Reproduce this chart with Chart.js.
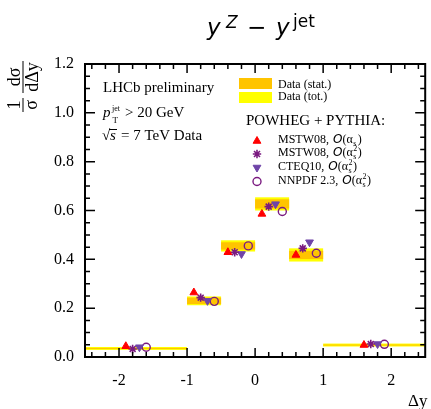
<!DOCTYPE html>
<html>
<head>
<meta charset="utf-8">
<script src="https://cdn.jsdelivr.net/npm/chart.js@4.4.1/dist/chart.umd.min.js"></script>
<style>
    html, body { margin: 0; padding: 0; background: #fff; }
    #wrap { position: relative; width: 431px; height: 409px; }
</style>
</head>
<body>
<div id="wrap"><canvas id="grafico" width="431" height="409"></canvas></div>
<script>
// bins in Delta y
const binLo = [-2.5, -1.0, -0.5, 0.0, 0.5, 1.0];
const binHi = [-1.0, -0.5, 0.0, 0.5, 1.0, 2.5];

// LHCb data, 1/sigma dsigma/dDeltay
const dataVal = [0.035, 0.230, 0.455, 0.627, 0.418, 0.049];
const errStat = [0.002, 0.013, 0.015, 0.019, 0.017, 0.002];
const errTot  = [0.006, 0.018, 0.023, 0.027, 0.027, 0.006];

// POWHEG + PYTHIA predictions
const mstwLO  = [0.044, 0.264, 0.429, 0.586, 0.418, 0.049];
const mstwNLO = [0.033, 0.243, 0.429, 0.616, 0.445, 0.053];
const cteq10  = [0.040, 0.230, 0.422, 0.626, 0.470, 0.053];
const nnpdf23 = [0.040, 0.228, 0.455, 0.596, 0.425, 0.052];

const yTicks = [0, 0.2, 0.4, 0.6, 0.8, 1.0, 1.2];
const xTicks = [-2, -1, 0, 1, 2];

const serif = '"Liberation Serif", "Times New Roman", serif';
const sans = '"DejaVu Sans", sans-serif';

const binCentro = binLo.map((lo, i) => (lo + binHi[i]) / 2);
function puntos(vals, desplaz) {
    return vals.map((v, i) => ({ x: binCentro[i] + desplaz, y: v }));
}

const estilos = [
    { pointStyle: 'triangle', rotation: 0, radius: 4.5, fill: '#ff0000', stroke: '#ff0000', bw: 1 },
    { pointStyle: 'star', rotation: 0, radius: 4.2, fill: 'rgba(0,0,0,0)', stroke: '#7a1a80', bw: 1.6 },
    { pointStyle: 'triangle', rotation: 180, radius: 4.5, fill: '#6f44a8', stroke: '#6f44a8', bw: 1 },
    { pointStyle: 'circle', rotation: 0, radius: 4, fill: 'rgba(0,0,0,0)', stroke: '#7a1a80', bw: 1.4 }
];

function dataset(vals, desplaz, e) {
    return {
        data: puntos(vals, desplaz),
        showLine: false,
        pointStyle: e.pointStyle,
        rotation: e.rotation,
        pointRadius: e.radius,
        pointBackgroundColor: e.fill,
        pointBorderColor: e.stroke,
        pointBorderWidth: e.bw
    };
}

function marcador(ctx, e, x, y) {
    ctx.save();
    ctx.fillStyle = e.fill;
    ctx.strokeStyle = e.stroke;
    ctx.lineWidth = e.bw;
    Chart.helpers.drawPoint(ctx, { pointStyle: e.pointStyle, rotation: e.rotation, radius: e.radius, borderWidth: e.bw }, x, y);
    ctx.restore();
}

// writes a run of text pieces, returns the end x
function texto(ctx, x, y, partes) {
    let cx = x;
    partes.forEach(p => {
        ctx.font = p.f;
        ctx.fillText(p.t, cx, y + (p.dy || 0));
        const w = ctx.measureText(p.t).width;
        if (!p.stay) cx += w;
    });
    return cx;
}

function alfaS(ctx, x, y, cuadrado) {
    let cx = texto(ctx, x, y, [
        { t: 'O', f: 'italic 12px ' + sans },
        { t: '(\u03b1', f: '12px ' + serif }
    ]);
    ctx.font = '8px ' + serif;
    if (cuadrado) ctx.fillText('2', cx + 0.5, y - 5);
    ctx.fillText('s', cx + 0.5, y + 3);
    cx += 5;
    ctx.font = '12px ' + serif;
    ctx.fillText(')', cx, y);
}

const pluginMarco = {
    id: 'marco',
    beforeDatasetsDraw(chart) {
        const { ctx, scales: { x, y } } = chart;
        ctx.save();
        for (let i = 0; i < binLo.length; i++) {
            const x0 = x.getPixelForValue(binLo[i]);
            const x1 = x.getPixelForValue(binHi[i]);
            let t0 = y.getPixelForValue(dataVal[i] + errTot[i]);
            let t1 = y.getPixelForValue(dataVal[i] - errTot[i]);
            ctx.fillStyle = '#ffff00';
            ctx.fillRect(x0, t0, x1 - x0, t1 - t0);
            t0 = y.getPixelForValue(dataVal[i] + errStat[i]);
            t1 = y.getPixelForValue(dataVal[i] - errStat[i]);
            ctx.fillStyle = '#ffc400';
            ctx.fillRect(x0, t0, x1 - x0, Math.max(1, t1 - t0));
        }
        ctx.restore();
    },
    afterDatasetsDraw(chart) {
        const { ctx, chartArea: a, scales: { x, y } } = chart;
        ctx.save();
        ctx.strokeStyle = '#000';
        ctx.lineWidth = 1.5;
        ctx.beginPath();
        for (let k = -12; k <= 12; k++) {
            const px = x.getPixelForValue(k / 5);
            const len = k % 5 === 0 ? 9 : 5;
            ctx.moveTo(px, a.bottom); ctx.lineTo(px, a.bottom - len);
            ctx.moveTo(px, a.top); ctx.lineTo(px, a.top + len);
        }
        for (let k = 0; k <= 24; k++) {
            const py = y.getPixelForValue(k * 0.05);
            const len = k % 4 === 0 ? 10 : 5;
            ctx.moveTo(a.left, py); ctx.lineTo(a.left + len, py);
            ctx.moveTo(a.right, py); ctx.lineTo(a.right - len, py);
        }
        ctx.stroke();
        ctx.lineWidth = 2;
        ctx.strokeRect(a.left, a.top, a.right - a.left, a.bottom - a.top);
        ctx.restore();
    },
    afterDraw(chart) {
        const ctx = chart.ctx;
        ctx.save();
        ctx.fillStyle = '#000';
        ctx.textBaseline = 'alphabetic';
        ctx.textAlign = 'left';

        // title
        ctx.font = 'italic 23px ' + sans;
        ctx.fillText('y', 207, 35);
        ctx.font = 'italic 17px ' + sans;
        ctx.fillText('Z', 226, 28);
        ctx.font = '23px ' + sans;
        ctx.fillText('\u2212', 247, 35);
        ctx.font = 'italic 23px ' + sans;
        ctx.fillText('y', 276, 35);
        ctx.font = '17px ' + sans;
        ctx.fillText('jet', 293, 27);

        // y axis title
        ctx.save();
        ctx.translate(23, 0);
        ctx.rotate(-Math.PI / 2);
        ctx.textAlign = 'center';
        ctx.font = '18px ' + serif;
        ctx.fillText('1', -105, -3);
        ctx.fillText('\u03c3', -105, 14);
        ctx.fillText('d\u03c3', -77, -3);
        ctx.fillText('d\u0394y', -77, 15);
        ctx.lineWidth = 1;
        ctx.beginPath();
        ctx.moveTo(-112, 0); ctx.lineTo(-98, 0);
        ctx.moveTo(-93, 0); ctx.lineTo(-61, 0);
        ctx.stroke();
        ctx.restore();

        // x axis title
        ctx.font = '17px ' + serif;
        ctx.fillText('\u0394y', 408, 406);

        // LHCb text
        ctx.font = '15px ' + serif;
        ctx.fillText('LHCb preliminary', 103, 92);
        ctx.font = 'italic 15px ' + serif;
        ctx.fillText('p', 103, 117);
        ctx.font = '8px ' + serif;
        ctx.fillText('jet', 112, 111);
        ctx.font = '9px ' + serif;
        ctx.fillText('T', 112.5, 123);
        ctx.font = '15px ' + serif;
        ctx.fillText('> 20 GeV', 125, 117);
        ctx.fillText('\u221a', 102, 140);
        ctx.font = 'italic 15px ' + serif;
        ctx.fillText('s', 110, 140);
        ctx.lineWidth = 1;
        ctx.beginPath();
        ctx.moveTo(109, 129.5); ctx.lineTo(117, 129.5);
        ctx.stroke();
        ctx.font = '15px ' + serif;
        ctx.fillText('= 7 TeV Data', 121, 140);

        // legend
        ctx.fillStyle = '#ffc400';
        ctx.fillRect(239, 78, 33, 11);
        ctx.fillStyle = '#ffff00';
        ctx.fillRect(239, 92, 33, 11);
        ctx.fillStyle = '#000';
        ctx.font = '12px ' + serif;
        ctx.fillText('Data (stat.)', 278, 87.5);
        ctx.fillText('Data (tot.)', 278, 100);
        ctx.font = '15px ' + serif;
        ctx.fillText('POWHEG + PYTHIA:', 246, 124.5);

        const filas = [
            { nombre: 'MSTW08,', cuad: false, y: 143 },
            { nombre: 'MSTW08,', cuad: true, y: 156 },
            { nombre: 'CTEQ10,', cuad: true, y: 169.5 },
            { nombre: 'NNPDF 2.3,', cuad: true, y: 183.5 }
        ];
        filas.forEach((f, i) => {
            marcador(ctx, estilos[i], 257, f.y - 2);
            ctx.fillStyle = '#000';
            ctx.font = '12px ' + serif;
            ctx.fillText(f.nombre, 278, f.y);
            const w = ctx.measureText(f.nombre + ' ').width;
            alfaS(ctx, 278 + w + 1, f.y, f.cuad);
        });
        ctx.restore();
    }
};

new Chart(document.getElementById('grafico').getContext('2d'), {
    type: 'scatter',
    data: {
        datasets: [
            dataset(mstwLO, -0.15, estilos[0]),
            dataset(mstwNLO, -0.05, estilos[1]),
            dataset(cteq10, 0.05, estilos[2]),
            dataset(nnpdf23, 0.15, estilos[3])
        ]
    },
    options: {
        responsive: false,
        devicePixelRatio: 1,
        animation: false,
        events: [],
        layout: { padding: { left: 0, right: 1, top: 64, bottom: 0 } },
        plugins: { legend: { display: false }, tooltip: { enabled: false } },
        scales: {
            x: {
                type: 'linear',
                min: -2.5,
                max: 2.5,
                grid: { display: false },
                border: { display: false },
                afterBuildTicks: s => { s.ticks = xTicks.map(v => ({ value: v })); },
                afterFit: s => { s.height = 52; },
                ticks: {
                    color: '#000',
                    padding: 6,
                    maxRotation: 0,
                    font: { family: serif, size: 16 },
                    callback: v => String(v)
                }
            },
            y: {
                type: 'linear',
                min: 0,
                max: 1.2,
                grid: { display: false },
                border: { display: false },
                afterBuildTicks: s => { s.ticks = yTicks.map(v => ({ value: v })); },
                afterFit: s => { s.width = 85; },
                ticks: {
                    color: '#000',
                    padding: 3,
                    font: { family: serif, size: 16 },
                    callback: v => v.toFixed(1)
                }
            }
        }
    },
    plugins: [pluginMarco]
});
</script>
</body>
</html>
